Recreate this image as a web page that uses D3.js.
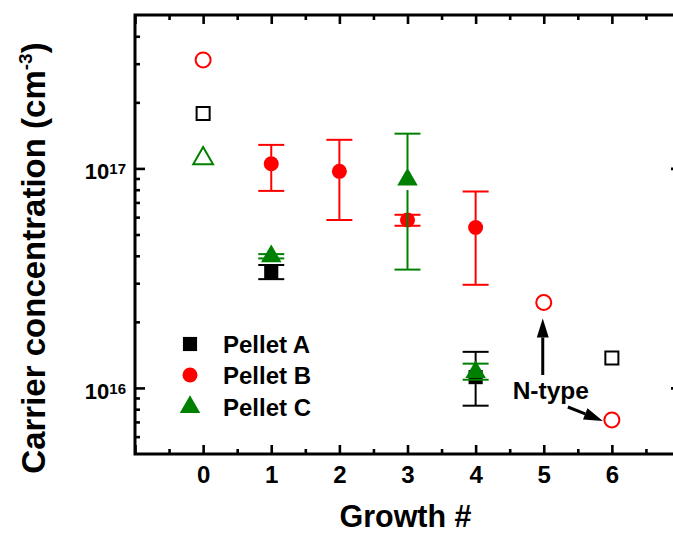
<!DOCTYPE html>
<html>
<head>
<meta charset="utf-8">
<script src="https://cdn.jsdelivr.net/npm/d3@7"></script>
<style>
  html, body { margin: 0; padding: 0; background: #fff; }
  svg { display: block; font-family: "Liberation Sans", Arial, Helvetica, sans-serif; font-weight: bold; }
</style>
</head>
<body>
<svg id="chart" width="673" height="535"></svg>
<script>
// Growth runs labelled on the x axis
const growthLabels = [0, 1, 2, 3, 4, 5, 6];
// Decades labelled on the y axis
const yMajorTicks = [1e16, 1e17];

// Pellet A (black squares): measured points with error bars, plus open points
const aGrowth = [1, 4];
const aConc = [3.38e16, 1.12e16];
const aHigh = [3.63e16, 1.46e16];
const aLow = [3.13e16, 8.3e15];
const aOpenGrowth = [0, 6];
const aOpenConc = [1.78e17, 1.37e16];

// Pellet B (red circles)
const bGrowth = [1, 2, 3, 4];
const bConc = [1.05e17, 9.7e16, 5.82e16, 5.38e16];
const bHigh = [1.28e17, 1.35e17, 6.15e16, 7.85e16];
const bLow = [7.9e16, 5.82e16, 5.48e16, 2.95e16];
const bOpenGrowth = [0, 5, 6];
const bOpenConc = [3.12e17, 2.45e16, 7.15e15];

// Pellet C (green triangles)
const cGrowth = [1, 3, 4];
const cConc = [3.98e16, 8.9e16, 1.18e16];
const cHigh = [4.07e16, 1.44e17, 1.29e16];
const cLow = [3.89e16, 3.46e16, 1.09e16];
const cOpenGrowth = [0];
const cOpenConc = [1.11e17];

const seriesNames = ["Pellet A", "Pellet B", "Pellet C"];
const seriesColors = ["#000000", "#ff0000", "#008000"];

const svg = d3.select("#chart");
const plotLeft = 135, plotRight = 680, plotTop = 15, plotBottom = 454;

const x = d3.scaleLinear().domain([-1, 7]).range([plotLeft, plotRight]);
const y = d3.scaleLog().domain([5e15, 5e17]).range([plotBottom, plotTop]);

const xMajor = d3.range(-1, 8);
const xMinor = d3.range(-0.5, 7, 1);
const yMinor = y.ticks().filter(v => !yMajorTicks.includes(v) && v > 5e15 && v < 5e17);

const fontFamily = "Liberation Sans, Arial, sans-serif";

// ---- axes (ticks point inward on all four sides) ----
function styleAxis(g) {
  g.select(".domain").remove();
  g.selectAll(".tick line").attr("stroke", "#000").attr("stroke-width", 2.6);
}

svg.append("g").attr("transform", `translate(0,${plotBottom})`)
  .call(d3.axisBottom(x).tickValues(xMajor).tickSize(-9).tickSizeOuter(0).tickPadding(12)
    .tickFormat(d => growthLabels.includes(d) ? d : ""))
  .call(styleAxis)
  .call(g => g.selectAll(".tick text").attr("font-size", 24).attr("font-weight", "bold")
    .attr("fill", "#000").attr("font-family", fontFamily));
svg.append("g").attr("transform", `translate(0,${plotBottom})`)
  .call(d3.axisBottom(x).tickValues(xMinor).tickSize(-5).tickSizeOuter(0).tickFormat(""))
  .call(styleAxis);

svg.append("g").attr("transform", `translate(0,${plotTop})`)
  .call(d3.axisTop(x).tickValues(xMajor).tickSize(-9).tickSizeOuter(0).tickFormat(""))
  .call(styleAxis);
svg.append("g").attr("transform", `translate(0,${plotTop})`)
  .call(d3.axisTop(x).tickValues(xMinor).tickSize(-5).tickSizeOuter(0).tickFormat(""))
  .call(styleAxis);

svg.append("g").attr("transform", `translate(${plotLeft},0)`)
  .call(d3.axisLeft(y).tickValues(yMajorTicks).tickSize(-10).tickSizeOuter(0).tickPadding(9)
    .tickFormat(d => String(Math.round(Math.log10(d)))))
  .call(styleAxis)
  .call(g => g.selectAll(".tick text").each(function() {
    const exp = this.textContent;
    const t = d3.select(this).text(null)
      .attr("font-size", 22).attr("font-weight", "bold").attr("fill", "#000")
      .attr("font-family", fontFamily)
      .attr("dy", "0.47em");
    t.append("tspan").text("10");
    t.append("tspan").attr("font-size", 15).attr("dy", -5).text(exp);
  }));
svg.append("g").attr("transform", `translate(${plotLeft},0)`)
  .call(d3.axisLeft(y).tickValues(yMinor).tickSize(-5).tickSizeOuter(0).tickFormat(""))
  .call(styleAxis);

svg.append("g").attr("transform", `translate(${plotRight},0)`)
  .call(d3.axisRight(y).tickValues(yMajorTicks).tickSize(-9).tickSizeOuter(0).tickFormat(""))
  .call(styleAxis);
svg.append("g").attr("transform", `translate(${plotRight},0)`)
  .call(d3.axisRight(y).tickValues(yMinor).tickSize(-5).tickSizeOuter(0).tickFormat(""))
  .call(styleAxis);

// frame
svg.append("rect")
  .attr("x", plotLeft).attr("y", plotTop)
  .attr("width", plotRight - plotLeft).attr("height", plotBottom - plotTop)
  .attr("fill", "none").attr("stroke", "#000").attr("stroke-width", 3);

// ---- symbols ----
const shapes = {
  square: { type: d3.symbolSquare, filled: 200, open: 170, gap: 7 },
  circle: { type: d3.symbolCircle, filled: 177, open: 177, gap: 7 },
  triangle: { type: d3.symbolTriangle, filled: 182, open: 170, gap: 10.5 }
};

const plot = svg.append("g");

function drawErrors(color, shape, gx, gv, ghi, glo) {
  const g = plot.append("g").attr("stroke", color).attr("stroke-width", 2).attr("fill", "none");
  const gap = shapes[shape].gap;
  gx.forEach((gr, i) => {
    const cx = x(gr), cy = y(gv[i]), yh = y(ghi[i]), yl = y(glo[i]);
    if (yh < cy - gap) g.append("line").attr("x1", cx).attr("x2", cx).attr("y1", yh).attr("y2", cy - gap);
    if (yl > cy + gap) g.append("line").attr("x1", cx).attr("x2", cx).attr("y1", cy + gap).attr("y2", yl);
    g.append("line").attr("x1", cx - 13).attr("x2", cx + 13).attr("y1", yh).attr("y2", yh);
    g.append("line").attr("x1", cx - 13).attr("x2", cx + 13).attr("y1", yl).attr("y2", yl);
  });
}

function drawSymbols(color, shape, gx, gv, filled) {
  const s = shapes[shape];
  const sym = d3.symbol().type(s.type).size(filled ? s.filled : s.open);
  plot.append("g").selectAll("path").data(gx).join("path")
    .attr("transform", (gr, i) => `translate(${x(gr)},${y(gv[i])})`)
    .attr("d", sym)
    .attr("fill", filled ? color : "#fff")
    .attr("stroke", filled ? "none" : color)
    .attr("stroke-width", 2);
}

drawSymbols(seriesColors[0], "square", aOpenGrowth, aOpenConc, false);
drawSymbols(seriesColors[1], "circle", bOpenGrowth, bOpenConc, false);
drawSymbols(seriesColors[2], "triangle", cOpenGrowth, cOpenConc, false);

drawErrors(seriesColors[0], "square", aGrowth, aConc, aHigh, aLow);
drawSymbols(seriesColors[0], "square", aGrowth, aConc, true);
drawErrors(seriesColors[1], "circle", bGrowth, bConc, bHigh, bLow);
drawSymbols(seriesColors[1], "circle", bGrowth, bConc, true);
drawErrors(seriesColors[2], "triangle", cGrowth, cConc, cHigh, cLow);
drawSymbols(seriesColors[2], "triangle", cGrowth, cConc, true);

// ---- legend ----
const legendShapes = ["square", "circle", "triangle"];
const legend = svg.append("g").attr("transform", "translate(190,344)");
seriesNames.forEach((name, i) => {
  const s = shapes[legendShapes[i]];
  const row = legend.append("g").attr("transform", `translate(0,${i * 31 + (i === 2 ? 1 : 0)})`);
  row.append("path").attr("d", d3.symbol().type(s.type).size(s.filled)())
    .attr("fill", seriesColors[i]);
  row.append("text").attr("x", 33).attr("y", 8.5).attr("font-size", 24).attr("fill", "#000").text(name);
});

// ---- N-type annotation ----
function arrow(x1, y1, x2, y2) {
  const ang = Math.atan2(y2 - y1, x2 - x1);
  const len = 19, half = 6;
  const bx = x2 - len * Math.cos(ang), by = y2 - len * Math.sin(ang);
  const g = svg.append("g");
  g.append("line").attr("x1", x1).attr("y1", y1).attr("x2", bx).attr("y2", by)
    .attr("stroke", "#000").attr("stroke-width", 3);
  const px = -Math.sin(ang) * half, py = Math.cos(ang) * half;
  g.append("path")
    .attr("d", `M${x2},${y2}L${bx + px},${by + py}L${bx - px},${by - py}Z`)
    .attr("fill", "#000");
}
const p5x = x(5), p5y = y(bOpenConc[1]);
const p6x = x(6), p6y = y(bOpenConc[2]);
svg.append("text").attr("x", p5x + 7).attr("y", 399).attr("text-anchor", "middle")
  .attr("font-size", 24.5).attr("fill", "#000").text("N-type");
arrow(p5x - 1, 375, p5x - 1, p5y + 16);
arrow(p6x - 44, 407, p6x - 9, p6y + 1);

// ---- axis titles ----
svg.append("text").attr("x", (plotLeft + plotRight) / 2 - 2).attr("y", 527).attr("text-anchor", "middle")
  .attr("font-size", 30.5).attr("fill", "#000").text("Growth #");

const yt = svg.append("text").attr("transform", "translate(45,258) rotate(-90)")
  .attr("text-anchor", "middle").attr("font-size", 33).attr("fill", "#000");
yt.append("tspan").text("Carrier concentration (cm");
yt.append("tspan").attr("font-size", 19).attr("dy", -13).text("-3");
yt.append("tspan").attr("dy", 13).text(")");
</script>
</body>
</html>
